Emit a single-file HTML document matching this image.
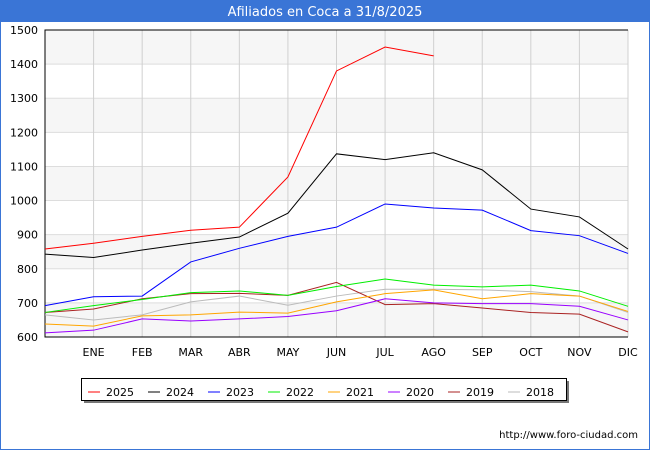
<!DOCTYPE html>
<html><head><meta charset="utf-8"><style>
body{margin:0;width:650px;height:450px;overflow:hidden;background:#fff;font-family:"Liberation Sans","DejaVu Sans",sans-serif}
</style></head><body>
<svg width="650" height="450" xmlns="http://www.w3.org/2000/svg" id="svg" font-family="DejaVu Sans, Liberation Sans, sans-serif">
<rect x="0.5" y="0.5" width="649" height="449" fill="#fff" stroke="#3a75d6" stroke-width="1"/>
<rect x="0" y="0" width="650" height="22" fill="#3a75d6"/>
<text x="325" y="16" fill="#fff" font-size="13" text-anchor="middle">Afiliados en Coca a 31/8/2025</text>
<g id="plot"></g>
<text x="638" y="438" font-size="10" text-anchor="end" fill="#000">http://www.foro-ciudad.com</text>
</svg>
<script>
const months=["","ENE","FEB","MAR","ABR","MAY","JUN","JUL","AGO","SEP","OCT","NOV","DIC"];
const yTicks=[600,700,800,900,1000,1100,1200,1300,1400,1500];
const seriesNames=["2025","2024","2023","2022","2021","2020","2019","2018"];
const seriesColors=["#ff0000","#000000","#0000ff","#00ee00","#ffa500","#9900ff","#aa2222","#bbbbbb"];
const s2025=[858,875,895,913,922,1069,1380,1450,1424];
const s2024=[843,833,855,875,893,963,1137,1120,1140,1090,975,952,858];
const s2023=[692,718,720,820,860,895,922,990,978,972,912,897,845];
const s2022=[672,692,710,730,735,722,748,770,752,747,752,735,690];
const s2021=[638,632,662,665,673,670,703,727,738,712,727,720,675];
const s2020=[612,620,653,647,653,660,677,712,700,698,698,690,650];
const s2019=[672,682,712,727,728,722,760,695,698,685,672,667,615];
const s2018=[665,650,665,703,720,693,720,740,740,738,733,720,672];
const allSeries=[s2025,s2024,s2023,s2022,s2021,s2020,s2019,s2018];
const NS="http://www.w3.org/2000/svg";
const X0=45,X1=628,Y0=337,Y1=30,VMIN=600,VMAX=1500;
const xs=i=>X0+(X1-X0)*i/(months.length-1);
const ys=v=>Y0-(v-VMIN)*(Y0-Y1)/(VMAX-VMIN);
const g=document.getElementById('plot');
function mk(t,a){const e=document.createElementNS(NS,t);for(const k in a)e.setAttribute(k,a[k]);g.appendChild(e);return e;}
for(let i=0;i<yTicks.length-1;i++){
 if(i%2===0){const r=mk('rect',{x:X0,y:ys(yTicks[i+1]),width:X1-X0,height:ys(yTicks[i])-ys(yTicks[i+1]),fill:'#f6f6f6'});
 
 }
}
yTicks.forEach(v=>{
 const l=mk('line',{x1:X0,x2:X1,y1:ys(v),y2:ys(v),stroke:'#dddddd'});
 
 
 const t=mk('text',{x:38,y:ys(v)+4,'font-size':11,'text-anchor':'end',fill:'#000'});
 t.textContent=v;
 
 
});
months.forEach((m,i)=>{
 if(i>0){const l=mk('line',{x1:xs(i),x2:xs(i),y1:Y1,y2:Y0,stroke:'#d0d0d0'});
 
 
 const t=mk('text',{x:xs(i),y:356,'font-size':11,'text-anchor':'middle',fill:'#000'});
 t.textContent=m;
 
 }
});
const ax=mk('path',{d:`M${X1},${Y1}H${X0}V${Y0}H${X1}`,fill:'none',stroke:'#000'});


for(let s=allSeries.length-1;s>=0;s--){
 const p=mk('polyline',{points:allSeries[s].map((v,i)=>xs(i)+','+ys(v)).join(' '),fill:'none',stroke:seriesColors[s],'stroke-width':1});
 
 
}
const sh=mk('rect',{x:84,y:381,width:485,height:22,fill:'#777'});


const lb=mk('rect',{x:81.5,y:378.5,width:485,height:22,fill:'#fff',stroke:'#000'});


seriesNames.forEach((n,i)=>{
 const x=88+i*60;
 const l=mk('line',{x1:x,x2:x+12,y1:392,y2:392,stroke:seriesColors[i]});
 
 
 const t=mk('text',{x:x+18,y:396,'font-size':11,fill:'#000'});
 t.textContent=n;
 
 
});
</script>
</body></html>
